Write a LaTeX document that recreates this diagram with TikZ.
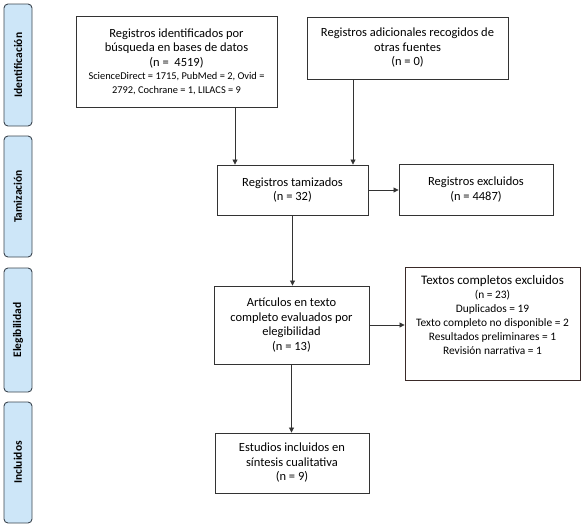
\documentclass[tikz,border=0pt]{standalone}
\usepackage{fontspec}
\setmainfont{Carlito}
\usetikzlibrary{arrows.meta,calc}
\definecolor{sidefill}{HTML}{CDE6F8}
\definecolor{sidedraw}{HTML}{3C4650}
\definecolor{boxdraw}{HTML}{333333}
\definecolor{exdraw}{HTML}{3A2A28}
\begin{document}
\begin{tikzpicture}[x=1pt,y=-1pt,
  box/.style={draw=boxdraw,line width=0.9pt,fill=white,align=center,inner sep=2pt,
    font=\fontsize{12.5}{14.5}\selectfont},
  side/.style={draw=sidedraw,line width=0.9pt,fill=sidefill,rounded corners=4pt,
    minimum width=28pt},
  sidetext/.style={rotate=90,font=\bfseries\fontsize{11.5}{13}\selectfont},
  arr/.style={draw=boxdraw,line width=0.8pt,-{Triangle[width=5pt,length=5pt]}}]
\useasboundingbox (0,0) rectangle (583,528);
% side labels
\node[side,minimum height=122pt] (sid) at (18,65) {};
\node[sidetext] (sidt) at (sid.center) {Identificación};
\node[side,minimum height=121pt] (stam) at (18,196.5) {};
\node[sidetext] (stamt) at (stam.center) {Tamización};
\node[side,minimum height=124pt] (seleg) at (18,330) {};
\node[sidetext] (selegt) at (seleg.center) {Elegibilidad};
\node[side,minimum height=121pt] (sinc) at (18,462.5) {};
\node[sidetext] (sinct) at (sinc.center) {Incluidos};
% boxes
\node[box,minimum width=201pt,minimum height=91pt] (b1) at (176.5,61.5)
  {Registros identificados por\\búsqueda en bases de datos\\(n =\ \ 4519)\\[-1pt]
   {\fontsize{10.4}{13}\selectfont ScienceDirect = 1715, PubMed = 2, Ovid =}\\[-1pt]
   {\fontsize{10.4}{13}\selectfont 2792, Cochrane = 1, LILACS = 9}};
\node[box,minimum width=201pt,minimum height=62pt] (b2) at (407.5,48)
  {Registros adicionales recogidos de\\otras fuentes\\(n = 0)};
\node[box,minimum width=151pt,minimum height=50pt] (tam) at (292.5,190)
  {Registros tamizados\\(n = 32)};
\node[box,minimum width=154pt,minimum height=51pt] (exc) at (476,189.5)
  {Registros excluidos\\(n = 4487)};
\node[box,minimum width=155pt,minimum height=78pt] (art) at (291.5,325)
  {Artículos en texto\\completo evaluados por\\elegibilidad\\(n = 13)};
\node[box,draw=exdraw,minimum width=175pt,minimum height=113pt,
  font=\fontsize{11.4}{14}\selectfont] (txe) at (492.5,324)
  {{\fontsize{13}{14}\selectfont Textos completos excluidos}\\(n = 23)\\Duplicados = 19\\
   Texto completo no disponible = 2\\Resultados preliminares = 1\\Revisión narrativa = 1\\[4pt]};
\node[box,minimum width=154pt,minimum height=60pt] (est) at (292,463)
  {Estudios incluidos en\\síntesis cualitativa\\(n = 9)};
% connectors
\coordinate (c1) at (235,0);
\coordinate (c2) at (353,0);
\draw[arr] (b1.south -| c1) -- (tam.north -| c1);
\draw[arr] (b2.south -| c2) -- (tam.north -| c2);
\draw[arr] (tam.east) -- (tam.east -| exc.west);
\draw[arr] (tam.south) -- (tam.south |- art.north);
\draw[arr] (art.east) -- (art.east -| txe.west);
\draw[arr] (art.south) -- (art.south |- est.north);
\end{tikzpicture}
\end{document}
